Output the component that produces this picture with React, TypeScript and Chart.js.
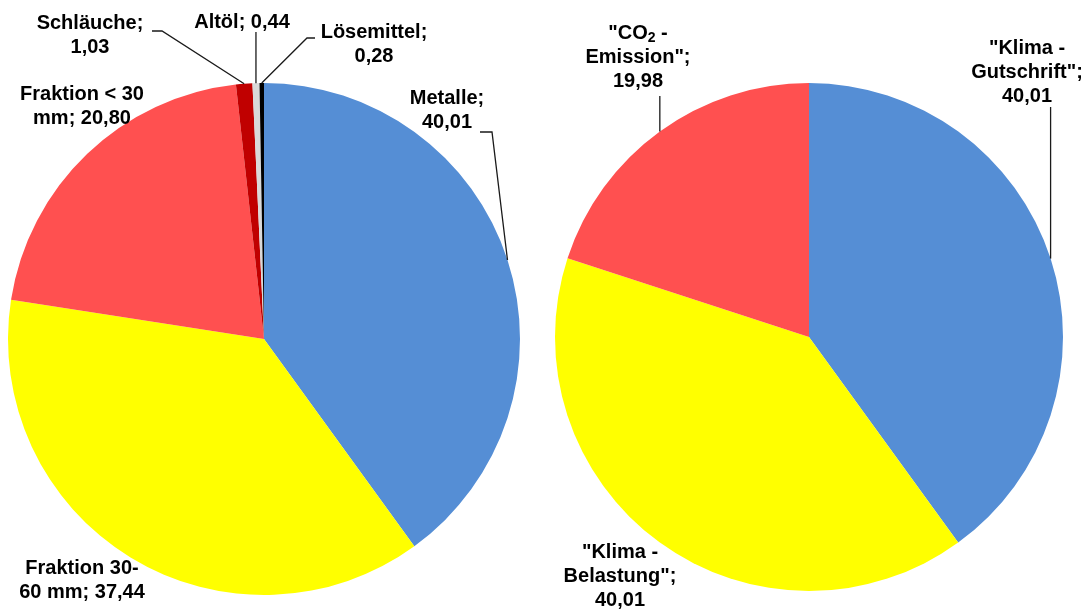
import React, { useEffect, useRef } from "react";
import { Chart, registerables } from "chart.js";

Chart.register(...registerables);

// ---- data ----
const leftCategories = ["Metalle", "Fraktion 30-60 mm", "Fraktion < 30 mm", "Schläuche", "Altöl", "Lösemittel"];
const leftValues = [40.01, 37.44, 20.8, 1.03, 0.44, 0.28];
const leftColors = ["#558ED5", "#FFFF00", "#FF5050", "#C00000", "#D9D9D9", "#000000"];

const rightCategories = ['"Klima - Gutschrift"', '"Klima - Belastung"', '"CO₂ - Emission"'];
const rightValues = [40.01, 40.01, 19.98];
const rightColors = ["#558ED5", "#FFFF00", "#FF5050"];

// ---- label layout (annotation text placement) ----
type LabelSpec = {
  lines: string[];
  x: number;
  y: number; // center of first line
  leader?: { x: number | null; y: number }[];
};

const leftLabels: LabelSpec[] = [
  { lines: ["Metalle;", "{v}"], x: 447, y: 98, leader: [{ x: 480, y: 132 }, { x: 492, y: 132 }] },
  { lines: ["Fraktion 30-", "60 mm; {v}"], x: 82, y: 568 },
  { lines: ["Fraktion < 30", "mm; {v}"], x: 82, y: 94 },
  { lines: ["Schläuche;", "{v}"], x: 90, y: 23, leader: [{ x: 152, y: 31 }, { x: 162, y: 31 }] },
  { lines: ["Altöl; {v}"], x: 242, y: 22, leader: [{ x: null, y: 32 }] },
  { lines: ["Lösemittel;", "{v}"], x: 374, y: 32, leader: [{ x: 315, y: 38 }, { x: 307, y: 38 }] },
];

const rightLabels: LabelSpec[] = [
  { lines: ['"Klima -', 'Gutschrift";', "{v}"], x: 1027, y: 48, leader: [{ x: null, y: 107 }] },
  { lines: ['"Klima -', 'Belastung";', "{v}"], x: 620, y: 552 },
  { lines: ['"CO₂ -', 'Emission";', "{v}"], x: 638, y: 33, leader: [{ x: null, y: 96 }] },
];

const fmt = (v: number) => v.toFixed(2).replace(".", ",");

const MAIN_FONT = "bold 20px 'Liberation Sans', Arial, sans-serif";
const SUB_FONT = "bold 14px 'Liberation Sans', Arial, sans-serif";

function drawLine(ctx: CanvasRenderingContext2D, text: string, cx: number, cy: number) {
  const idx = text.indexOf("₂");
  if (idx < 0) {
    ctx.font = MAIN_FONT;
    ctx.textAlign = "center";
    ctx.fillText(text, cx, cy);
    return;
  }
  const before = text.slice(0, idx);
  const after = text.slice(idx + 1);
  ctx.font = MAIN_FONT;
  const wb = ctx.measureText(before).width;
  const wa = ctx.measureText(after).width;
  ctx.font = SUB_FONT;
  const ws = ctx.measureText("2").width;
  const total = wb + ws + wa;
  let x = cx - total / 2;
  ctx.textAlign = "left";
  ctx.font = MAIN_FONT;
  ctx.fillText(before, x, cy);
  x += wb;
  ctx.font = SUB_FONT;
  ctx.fillText("2", x, cy + 5);
  x += ws;
  ctx.font = MAIN_FONT;
  ctx.fillText(after, x, cy);
}

const labelPlugin = (specs: LabelSpec[]) => ({
  id: "pieLabels",
  afterDatasetsDraw(chart: any) {
    const ctx: CanvasRenderingContext2D = chart.ctx;
    const meta = chart.getDatasetMeta(0);
    const values: number[] = chart.data.datasets[0].data;
    ctx.save();
    specs.forEach((spec, i) => {
      const arc = meta.data[i];
      if (!arc) return;
      const p = arc.getProps(["x", "y", "startAngle", "endAngle", "outerRadius"], true);
      const mid = (p.startAngle + p.endAngle) / 2;
      const ex = p.x + Math.cos(mid) * p.outerRadius;
      const ey = p.y + Math.sin(mid) * p.outerRadius;
      if (spec.leader) {
        ctx.beginPath();
        ctx.strokeStyle = "#1a1a1a";
        ctx.lineWidth = 1.3;
        spec.leader.forEach((pt, k) => {
          const px = pt.x === null ? ex : pt.x;
          if (k === 0) ctx.moveTo(px, pt.y);
          else ctx.lineTo(px, pt.y);
        });
        ctx.lineTo(ex, ey);
        ctx.stroke();
      }
      ctx.fillStyle = "#000";
      ctx.textBaseline = "middle";
      spec.lines.forEach((ln, k) => {
        drawLine(ctx, ln.replace("{v}", fmt(values[i])), spec.x, spec.y + k * 24);
      });
    });
    ctx.restore();
  },
});

function makeChart(
  canvas: HTMLCanvasElement,
  labels: string[],
  values: number[],
  colors: string[],
  padding: { left: number; right: number; top: number; bottom: number },
  specs: LabelSpec[]
) {
  return new Chart(canvas, {
    type: "pie",
    data: {
      labels,
      datasets: [
        {
          data: values,
          backgroundColor: colors,
          borderWidth: 0,
        },
      ],
    },
    options: {
      responsive: false,
      animation: false,
      layout: { padding },
      plugins: {
        legend: { display: false },
        tooltip: { enabled: false },
      },
    },
    plugins: [labelPlugin(specs)],
  } as any);
}

export default function App() {
  const leftRef = useRef<HTMLCanvasElement>(null);
  const rightRef = useRef<HTMLCanvasElement>(null);

  useEffect(() => {
    const c1 = makeChart(
      leftRef.current!,
      leftCategories,
      leftValues,
      leftColors,
      { left: 8, right: 566, top: 83, bottom: 15 },
      leftLabels
    );
    const c2 = makeChart(
      rightRef.current!,
      rightCategories,
      rightValues,
      rightColors,
      { left: 555, right: 23, top: 83, bottom: 19 },
      rightLabels
    );
    return () => {
      c1.destroy();
      c2.destroy();
    };
  }, []);

  const cs: React.CSSProperties = { position: "absolute", left: 0, top: 0 };
  return (
    <div style={{ position: "absolute", left: 0, top: 0, width: 1086, height: 610, background: "#fff" }}>
      <canvas ref={leftRef} width={1086} height={610} style={cs} />
      <canvas ref={rightRef} width={1086} height={610} style={cs} />
    </div>
  );
}
